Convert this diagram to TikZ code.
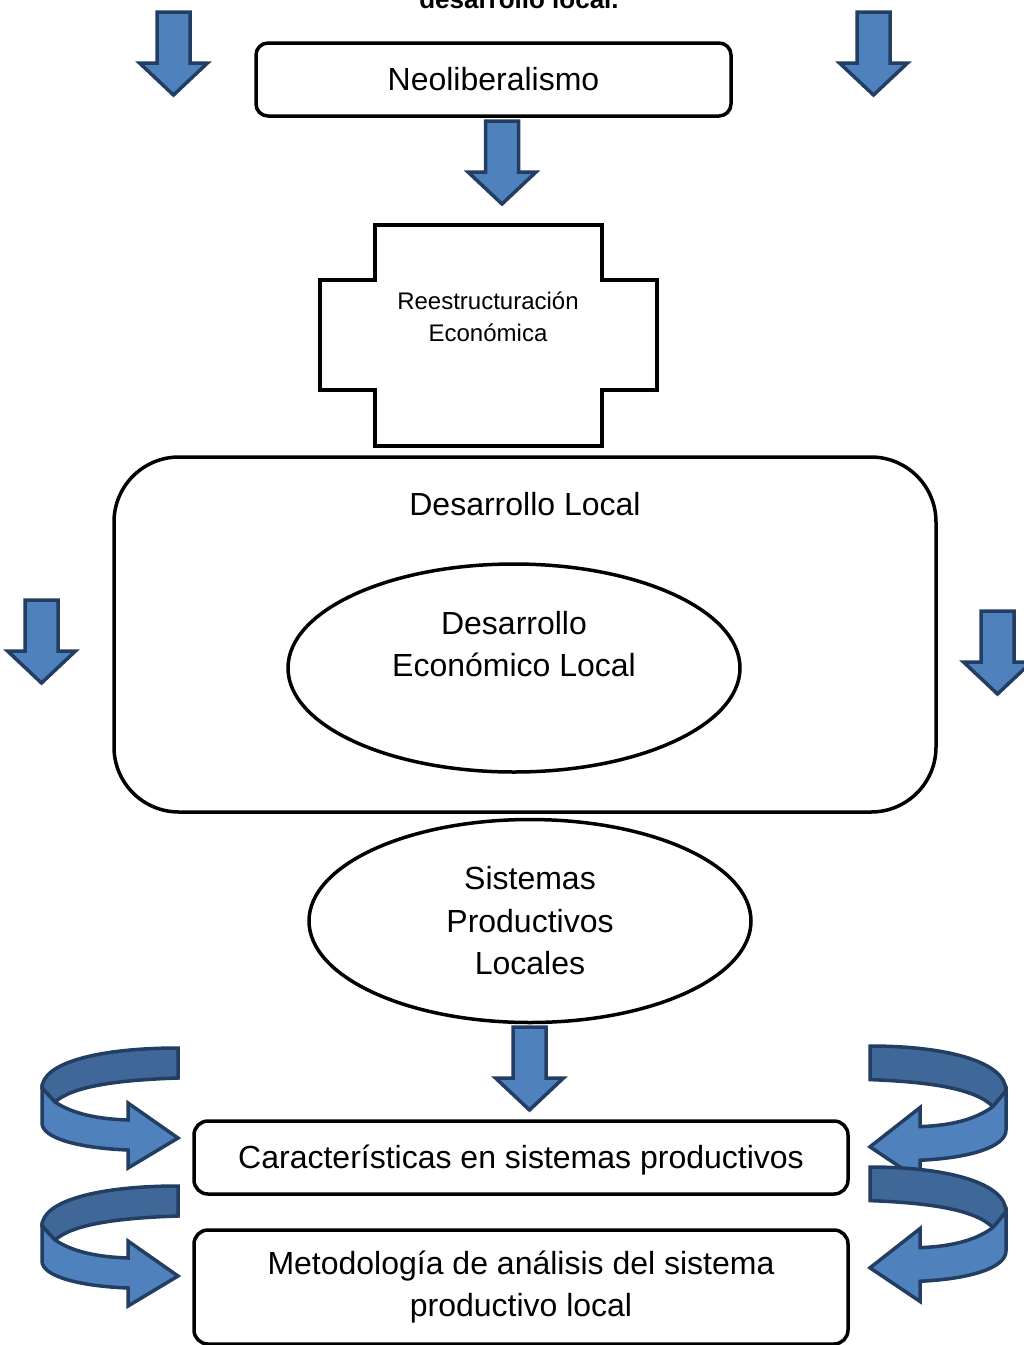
\documentclass[tikz,border=0pt]{standalone}
\usepackage{fontspec}
\setmainfont{Liberation Sans}
\usetikzlibrary{positioning, shapes.geometric}
\definecolor{arrfill}{HTML}{4F81BD}
\definecolor{arrback}{HTML}{3F6797}
\definecolor{arrline}{HTML}{223E62}
\tikzset{
  txt/.style={font=\fontsize{32}{42.5}\selectfont, align=center},
  box/.style={txt, draw, line width=3.5pt, rounded corners=12pt},
  oval/.style={draw, ellipse, line width=3.5pt, inner sep=0pt},
  blk/.style={fill=arrfill, draw=arrline, line width=3.5pt, line join=miter},
  downarr/.pic={
    \path[blk] (-16.5,0) -- (16.5,0) -- (16.5,51) -- (34,51) -- (0,83) -- (-34,51) -- (-16.5,51) -- cycle;
  },
  curlarr/.pic={
    \path[blk, fill=arrback] (0,0) .. controls (-80,0) and (-136,15) .. (-136,40) -- (-123,54) .. controls (-105,38) and (-60,32) .. (0,30) -- cycle;
    \path[blk] (-136,40) -- (-123,54) .. controls (-105,66) and (-80,71) .. (-50,72) -- (-50,55) -- (0,90) -- (-50,120) -- (-50,102) .. controls (-100,100) and (-136,90) .. (-136,75) -- cycle;
  }
}
\begin{document}
\begin{tikzpicture}[x=1pt, y=-1pt]
\useasboundingbox (0,0) rectangle (1024,1345);
\node[txt, font=\bfseries\fontsize{26}{30}\selectfont, anchor=base] (ttl) at (519,8) {desarrollo local.};
\node[box, minimum width=475pt, minimum height=73pt] (neo) at (493.5,79.5) {Neoliberalismo};
\pic at (173.5,12) {downarr};
\pic at (873.5,12) {downarr};
\pic at (502,121) {downarr};
\draw[line width=3.5pt, line join=miter] (375,225) -- (602,225) -- (602,280) -- (657,280) -- (657,390) -- (602,390) -- (602,446) -- (375,446) -- (375,390) -- (320,390) -- (320,280) -- (375,280) -- cycle;
\node[txt, font=\fontsize{24}{32}\selectfont] (reest) at (488,317) {Reestructuración\\Económica};
\node[draw, rounded corners=65pt, line width=3.5pt, minimum width=822pt, minimum height=355pt] (dl) at (525,634.5) {};
\node[txt] (dltxt) at (525,504) {Desarrollo Local};
\node[oval, minimum width=452pt, minimum height=208pt] (del) at (514,668) {};
\node[txt] (deltxt) at (514,644) {Desarrollo\\Económico Local};
\pic at (41.5,600) {downarr};
\pic at (997.5,611) {downarr};
\node[oval, txt, minimum width=442pt, minimum height=203pt] (spl) at (530,921) {Sistemas\\Productivos\\Locales};
\pic at (529.5,1027) {downarr};
\node[box, rounded corners=14pt, minimum width=654pt, minimum height=73pt, text depth=2pt] (car) at (521,1157.5) {Características en sistemas productivos};
\node[box, rounded corners=14pt, minimum width=654pt, minimum height=114pt] (met) at (521,1287) {Metodología de análisis del sistema\\productivo local};
\pic at (178,1048) {curlarr};
\pic at (178,1186) {curlarr};
\pic[xscale=-1, yscale=1.12] at (870,1046) {curlarr};
\pic[xscale=-1, yscale=1.12] at (870,1167) {curlarr};
\end{tikzpicture}
\end{document}
